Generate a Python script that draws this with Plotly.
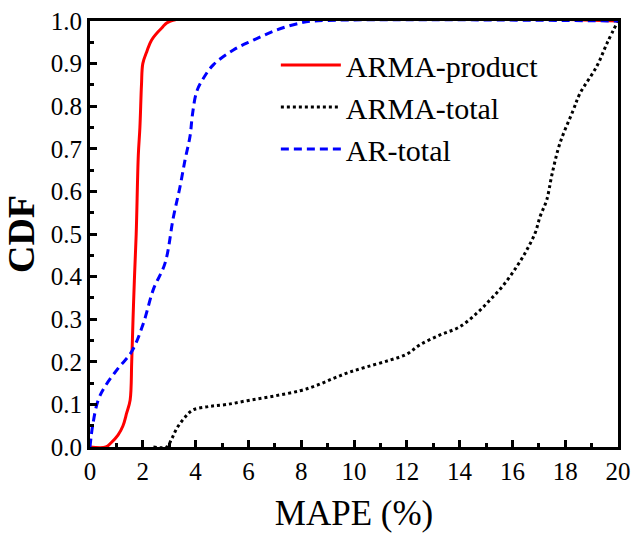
import plotly.graph_objects as go

# ARMA-product (red, solid)
prod_x = [0, 0.6, 0.8, 1.06, 1.25, 1.39, 1.52, 1.58, 1.63, 1.68, 1.75, 1.83, 1.89, 1.95, 2.0, 2.15, 2.33, 2.71, 3.05, 20]
prod_y = [0, 0.0, 0.01, 0.028, 0.05, 0.08, 0.11, 0.2, 0.3, 0.39, 0.5, 0.685, 0.75, 0.85, 0.9, 0.928, 0.955, 0.983, 1.0, 1.0]

# ARMA-total (black, dotted)
total_x = [2.4, 2.9, 3.1, 3.3, 3.6, 3.9, 4.5, 5.2, 6.06, 7.0, 7.95, 8.6, 9.22, 9.8, 10.48, 11.36, 12.0, 12.5,
           13.26, 14.0, 14.65, 15.15, 15.66, 16.16, 16.54, 16.86, 17.05, 17.3, 17.5, 17.8, 18.3, 18.56, 19.19, 19.6, 20.0]
total_y = [0.0, 0.0, 0.02, 0.045, 0.07, 0.087, 0.095, 0.1, 0.11, 0.12, 0.132, 0.145, 0.161, 0.175, 0.188, 0.204, 0.218, 0.24,
           0.263, 0.282, 0.314, 0.345, 0.38, 0.423, 0.462, 0.502, 0.541, 0.58, 0.64, 0.713, 0.79, 0.83, 0.893, 0.95, 1.0]

# AR-total (blue, dashed)
ar_x = [0, 0.1, 0.31, 0.6, 1.07, 1.58, 2.02, 2.4, 2.84, 3.16, 3.41, 3.6, 3.79, 3.88, 4.04, 4.29, 4.67, 5.43, 6.19, 7.07, 7.95, 8.5, 20]
ar_y = [0, 0.05, 0.11, 0.145, 0.185, 0.224, 0.29, 0.37, 0.431, 0.54, 0.611, 0.674, 0.73, 0.78, 0.834, 0.865, 0.897, 0.932, 0.955, 0.979, 0.995, 1.0, 1.0]

x_ticks = [0, 2, 4, 6, 8, 10, 12, 14, 16, 18, 20]
y_ticks = [0.0, 0.1, 0.2, 0.3, 0.4, 0.5, 0.6, 0.7, 0.8, 0.9, 1.0]

FONT = "Liberation Serif"

fig = go.Figure()
fig.add_trace(go.Scatter(x=prod_x, y=prod_y, mode="lines", name="ARMA-product",
                         line=dict(color="#ff0000", width=3), line_shape="spline"))
fig.add_trace(go.Scatter(x=total_x, y=total_y, mode="lines", name="ARMA-total",
                         line=dict(color="#000000", width=3, dash="dot"), line_shape="spline"))
fig.add_trace(go.Scatter(x=ar_x, y=ar_y, mode="lines", name="AR-total",
                         line=dict(color="#0000ff", width=3, dash="8px,5px"), line_shape="spline"))

axis_common = dict(
    showline=True, linecolor="black", linewidth=3, mirror=True,
    ticks="inside", ticklen=7, tickwidth=3, tickcolor="black",
    showgrid=False, zeroline=False, automargin=False,
    tickfont=dict(family=FONT, size=25, color="black"),
)

fig.update_xaxes(range=[0, 20], tickvals=x_ticks, ticktext=[str(v) for v in x_ticks],
                 minor=dict(ticks="inside", dtick=1, ticklen=4, tickwidth=3, tickcolor="black"),
                 title=dict(text="MAPE (%)", font=dict(family=FONT, size=35, color="black"), standoff=17),
                 **axis_common)
fig.update_yaxes(range=[0, 1], tickvals=y_ticks, ticktext=[f"{v:.1f}" for v in y_ticks],
                 minor=dict(ticks="inside", dtick=0.05, ticklen=4, tickwidth=3, tickcolor="black"),
                 title=dict(text="<b>CDF</b>", font=dict(family=FONT, size=38, color="black"), standoff=5),
                 **axis_common)

fig.update_layout(
    width=633, height=535,
    margin=dict(l=90, r=15, t=21, b=88),
    paper_bgcolor="white", plot_bgcolor="white",
    legend=dict(x=0.352, y=0.958, xanchor="left", yanchor="top",
                font=dict(family=FONT, size=30, color="black"),
                bgcolor="rgba(0,0,0,0)", tracegroupgap=0, itemwidth=60),
)

fig.write_html("out.html")
